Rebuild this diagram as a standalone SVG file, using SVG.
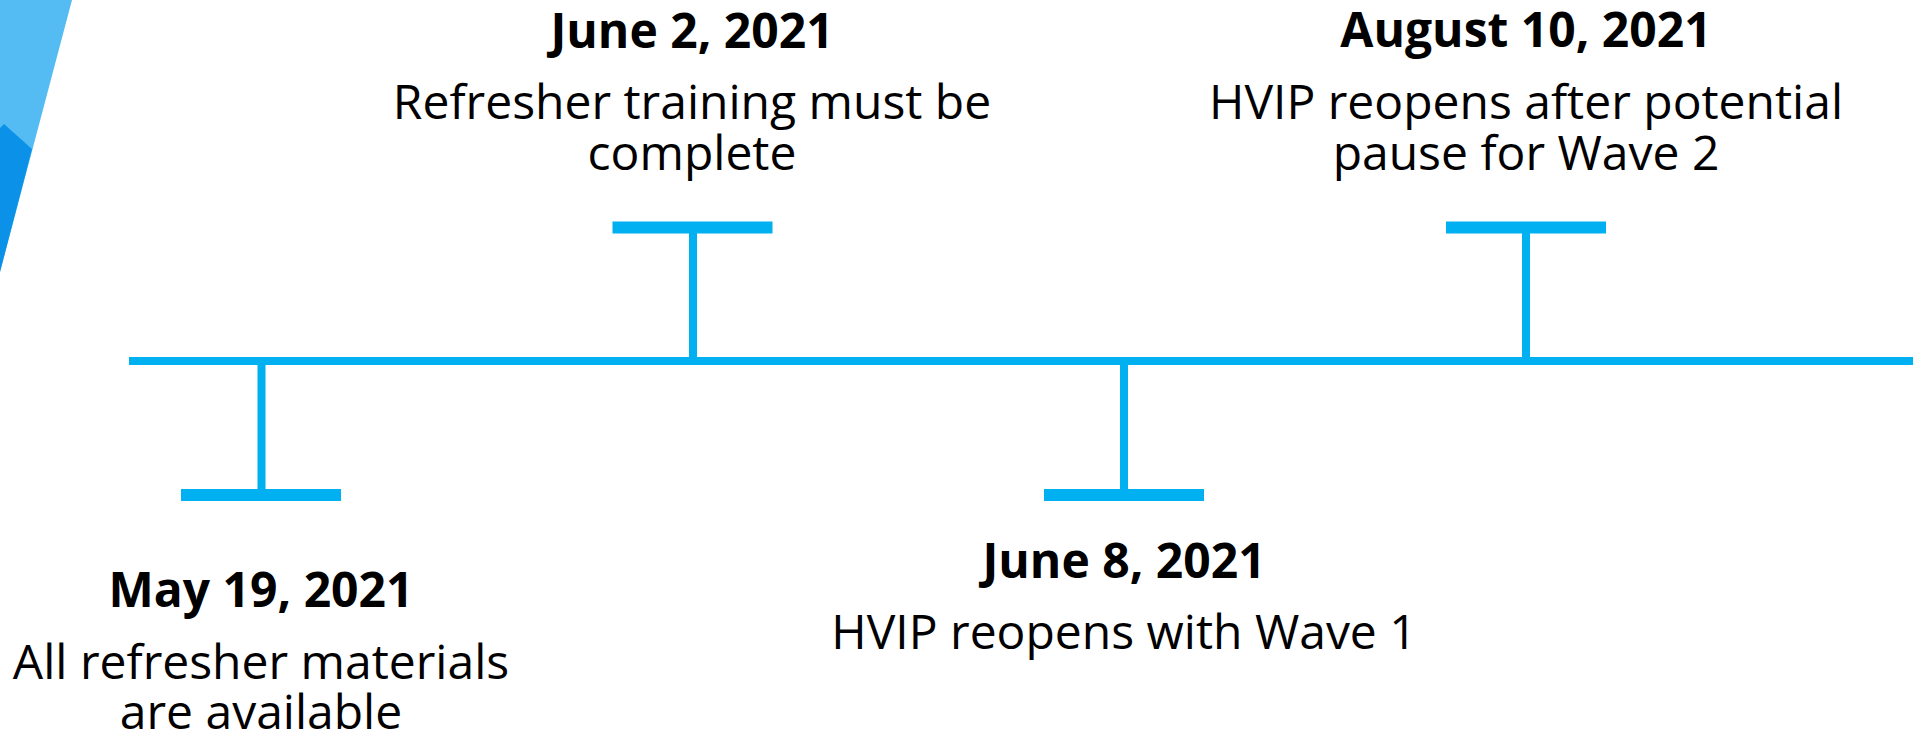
<svg xmlns="http://www.w3.org/2000/svg" width="1913" height="735" viewBox="0 0 1913 735">
<style>
.ln{fill:#00B0F0}
.hd{font-family:"Open Sans","Noto Sans",sans-serif;font-weight:bold;font-size:48px;fill:#000;text-anchor:middle}
.tx{font-family:"Open Sans","Noto Sans",sans-serif;font-size:48px;fill:#000;text-anchor:middle}
</style>
<rect width="1913" height="735" fill="#fff"/>
<g id="corner">
<polygon points="0,0 72,0 0,272" fill="#55BCF3"/>
<polygon points="0,128 4,124 32,149 0,272" fill="#0B92E8"/>
</g>
<g id="connectors">
<rect class="ln" x="129" y="357" width="1784" height="8"/>
</g>
<g id="may19">
<rect class="ln" x="257.5" y="361" width="8" height="130"/>
<rect class="ln" x="181" y="489" width="160" height="12"/>
<text class="hd" x="261" y="607">May 19, 2021</text>
<text class="tx" x="261" y="679">All refresher materials</text>
<text class="tx" x="261" y="729">are available</text>
</g>
<g id="june2">
<rect class="ln" x="689" y="231" width="8" height="130"/>
<rect class="ln" x="612.5" y="221.5" width="160" height="12"/>
<text class="hd" x="692" y="48">June 2, 2021</text>
<text class="tx" x="692" y="119">Refresher training must be</text>
<text class="tx" x="692" y="170">complete</text>
</g>
<g id="june8">
<rect class="ln" x="1120" y="361" width="8" height="130"/>
<rect class="ln" x="1044" y="489" width="160" height="12"/>
<text class="hd" x="1124" y="578">June 8, 2021</text>
<text class="tx" x="1124" y="649">HVIP reopens with Wave 1</text>
</g>
<g id="aug10">
<rect class="ln" x="1522" y="231" width="8" height="130"/>
<rect class="ln" x="1446" y="221.5" width="160" height="12"/>
<text class="hd" x="1526" y="47">August 10, 2021</text>
<text class="tx" x="1526" y="119">HVIP reopens after potential</text>
<text class="tx" x="1526" y="170">pause for Wave 2</text>
</g>
</svg>
